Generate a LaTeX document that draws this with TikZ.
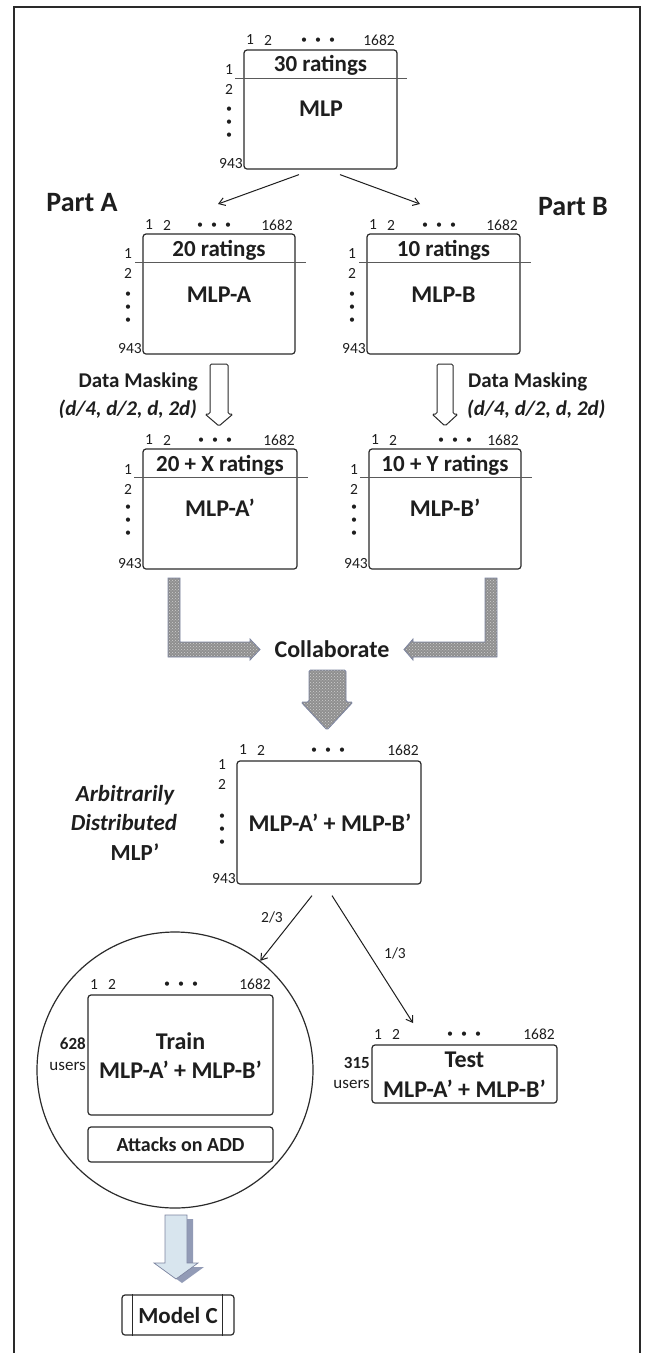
\documentclass[tikz,border=0pt]{standalone}
\usepackage{fontspec}
\setmainfont{Carlito}
\usetikzlibrary{arrows.meta,patterns,calc}

\definecolor{ink}{HTML}{1E1E1E}
\definecolor{edge}{HTML}{2A2A2A}
\definecolor{rulec}{HTML}{5A5A5A}
\definecolor{stipbg}{HTML}{8F8F8F}
\definecolor{stipdot}{HTML}{CFCFCF}
\definecolor{stipedge}{HTML}{7C84A0}
\definecolor{iceface}{HTML}{D8E5EE}
\definecolor{iceside}{HTML}{929BB6}

\newcommand\fs[1]{\fontsize{#1}{#1}\selectfont}

% column numbers above a matrix: prefix, left, right, y, centre of the dots
\newcommand\colnums[5]{%
  \node[num] (#1c1) at (#2+6,#4) {1};
  \node[num] (#1c2) at (#2+24,#4) {2};
  \node[dot] (#1h1) at (#5-14,#4+1) {•};
  \node[dot] (#1h2) at (#5,#4+1) {•};
  \node[dot] (#1h3) at (#5+14,#4+1) {•};
  \node[num] (#1c9) at (#3-18,#4) {1682};
}
% row numbers left of a matrix: prefix, left, bottom, y of "1", y of first dot
\newcommand\rownums[5]{%
  \node[num] (#1r1) at (#2-15,#4) {1};
  \node[num] (#1r2) at (#2-15,#4+19.5) {2};
  \node[dot] (#1v1) at (#2-15,#5) {•};
  \node[dot] (#1v2) at (#2-15,#5+13) {•};
  \node[dot] (#1v3) at (#2-15,#5+26) {•};
  \node[num,anchor=east] (#1r9) at (#2-1,#3-5) {943};
}

\begin{document}
\begin{tikzpicture}[x=1pt,y=-1pt,
  frame/.style={draw=edge,line width=1.3pt},
  mbox/.style={draw=edge,line width=1.2pt,rounded corners=3pt,fill=white,inner sep=0pt},
  rulel/.style={draw=rulec,line width=0.9pt},
  num/.style={font=\fs{15.5},text=ink,inner sep=0pt},
  dot/.style={font=\fs{12},text=ink,inner sep=0pt},
  hdr/.style={font=\bfseries\fs{23},text=ink,inner sep=0pt},
  ttl/.style={font=\bfseries\fs{24},text=ink,inner sep=0pt},
  part/.style={font=\bfseries\fs{28},text=ink,inner sep=0pt},
  mask/.style={font=\bfseries\fs{21},text=ink,inner sep=0pt},
  maskit/.style={font=\bfseries\itshape\fs{21},text=ink,inner sep=0pt},
  side/.style={font=\fs{17},text=ink,inner sep=0pt},
  arr/.style={draw=ink,line width=1pt,-{Straight Barb[length=6pt,width=8pt]}},
  hollow/.style={draw=edge,line width=1pt,fill=white,rounded corners=1.5pt},
  stipple/.style={preaction={fill=stipbg},pattern=crosshatch dots,pattern color=stipdot,draw=stipedge,line width=0.8pt},
]
\useasboundingbox (0,0) rectangle (645,1353);
\draw[frame] (14,1353) -- (14,7) -- (640,7) -- (640,1353);

% ---- full matrix ----
\node[mbox,minimum width=153pt,minimum height=119pt] (mlp) at (320.5,109.5) {};
\draw[rulel] (235,78) -- (407,78);
\node[hdr] (mlph) at (320.5,65) {30 ratings};
\node[ttl] (mlpt) at (321,109) {MLP};
\colnums{mlp}{244}{397}{40}{318}
\rownums{mlp}{244}{169}{70}{110}

\coordinate (aIn) at (218,204);
\coordinate (bIn) at (420,204);
\draw[arr] ($(mlp.south)+(-21.5,5)$) -- (aIn);
\draw[arr] ($(mlp.south)+(19.5,5)$) -- (bIn);

\node[part] (pa) at (82,203) {Part A};
\node[part] (pb) at (573,207) {Part B};

% ---- part A ----
\node[mbox,minimum width=152pt,minimum height=120pt] (ma) at (219,294) {};
\draw[rulel] (135,262) -- (306,262);
\node[hdr] (mah) at (219,250) {20 ratings};
\node[ttl] (mat) at (219,295) {MLP-A};
\colnums{ma}{143}{295}{225}{214}
\rownums{ma}{143}{354}{254}{295}

% ---- part B ----
\node[mbox,minimum width=153pt,minimum height=120pt] (mb) at (443.5,294) {};
\draw[rulel] (359,262) -- (531,262);
\node[hdr] (mbh) at (443.5,250) {10 ratings};
\node[ttl] (mbt) at (443.5,295) {MLP-B};
\colnums{mb}{367}{520}{225}{439}
\rownums{mb}{367}{354}{254}{295}

% ---- masking arrows ----
\draw[hollow] (210,364) -- (228,364) -- (228,414) -- (233,414) -- (219,426) -- (205,414) -- (210,414) -- cycle;
\draw[hollow] (437,364) -- (453,364) -- (453,414) -- (458,414) -- (445,426) -- (432,414) -- (437,414) -- cycle;
\node[mask,anchor=east] (dmA) at (198,382) {Data Masking};
\node[maskit,anchor=east] (dpA) at (197,409) {(d/4, d/2, d, 2d)};
\node[mask,anchor=west] (dmB) at (468,382) {Data Masking};
\node[maskit,anchor=west] (dpB) at (467,409) {(d/4, d/2, d, 2d)};

% ---- masked parts ----
\node[mbox,minimum width=154pt,minimum height=120pt] (ma2) at (220,509) {};
\draw[rulel] (134,477) -- (308,477);
\node[hdr] (ma2h) at (220,465) {20 + X ratings};
\node[ttl] (ma2t) at (220,508) {MLP-A’};
\colnums{maa}{143}{297}{440}{215}
\rownums{maa}{143}{569}{470}{508}

\node[mbox,minimum width=152pt,minimum height=120pt] (mb2) at (445,509) {};
\draw[rulel] (360,477) -- (532,477);
\node[hdr] (mb2h) at (445,465) {10 + Y ratings};
\node[ttl] (mb2t) at (445,508) {MLP-B’};
\colnums{mbb}{369}{521}{440}{455}
\rownums{mbb}{369}{569}{470}{508}

% ---- collaboration ----
\draw[stipple] (168,578) -- (180,578) -- (180,642) -- (250,642) -- (250,639) -- (260,649.5)
  -- (250,660) -- (250,657) -- (168,657) -- cycle;
\draw[stipple] (485,578) -- (497,578) -- (497,657) -- (413,657) -- (413,660) -- (404,649.5)
  -- (413,639) -- (413,642) -- (485,642) -- cycle;
\node[ttl] (collab) at (332,649) {Collaborate};
\draw[stipple,rounded corners=1.5pt] (309,670) -- (346,670) -- (346,702) -- (353,702) -- (327,730)
  -- (301,702) -- (309,702) -- cycle;

% ---- merged matrix ----
\node[mbox,minimum width=184pt,minimum height=123pt] (mrg) at (329,822.5) {};
\node[ttl] (mrgt) at (330,823) {MLP-A’ + MLP-B’};
\colnums{mrg}{237}{421}{750}{328}
\rownums{mrg}{237}{884}{765}{817}
\node[maskit,font=\bfseries\itshape\fs{23}] (arb1) at (125,795) {Arbitrarily};
\node[maskit,font=\bfseries\itshape\fs{23}] (arb2) at (124,823) {Distributed};
\node[ttl,font=\bfseries\fs{23}] (arb3) at (135,852) {MLP’};

% ---- train split ----
\node[draw=edge,line width=1.2pt,circle,minimum size=276pt,inner sep=0pt] (ring) at (175,1070) {};
\node[mbox,minimum width=185pt,minimum height=120pt] (trn) at (180.5,1055) {};
\node[ttl] (trnt) at (180.5,1041) {Train};
\node[ttl] (trnm) at (180.5,1070) {MLP-A’ + MLP-B’};
\colnums{trn}{88}{273}{984}{181}
\node[side,font=\bfseries\fs{17},anchor=east] (trnn) at (86,1044) {628};
\node[side,anchor=east] (trnu) at (86,1066) {users};
\node[mbox,font=\bfseries\fs{20},text=ink,minimum width=185pt,minimum height=35pt] (atk) at (180.5,1144.5) {Attacks on ADD};

% ---- test split ----
\node[mbox,minimum width=185pt,minimum height=58pt] (tst) at (464.5,1074) {};
\node[ttl] (tstt) at (464.5,1060) {Test};
\node[ttl] (tstm) at (464.5,1089) {MLP-A’ + MLP-B’};
\colnums{tst}{372}{557}{1034}{464}
\node[side,font=\bfseries\fs{17},anchor=east] (tstn) at (370,1063) {315};
\node[side,anchor=east] (tstu) at (370,1084) {users};

\coordinate (tIn) at (413,1023);
\draw[arr] ($(mrg.south)+(-17,11)$) -- (ring.52);
\draw[arr] ($(mrg.south)+(3,11)$) -- (tIn);
\node[num] (twoThirds) at (272,917) {2/3};
\node[num] (oneThird) at (395,953) {1/3};

% ---- model output ----
\fill[iceside] (171,1219) -- (193,1219) -- (193,1267) -- (204,1267) -- (182,1283) -- (160,1267) -- (171,1267) -- cycle;
\draw[draw=stipedge,line width=0.7pt,fill=iceface] (165,1215) -- (187,1215) -- (187,1263) -- (198,1263)
  -- (176,1279) -- (154,1263) -- (165,1263) -- cycle;
\node[mbox,font=\bfseries\fs{23},text=ink,minimum width=112pt,minimum height=40pt] (mc) at (178,1315) {Model C};
\draw[draw=edge,line width=1pt] ($(mc.north west)+(11,0)$) -- ($(mc.south west)+(11,0)$);
\draw[draw=edge,line width=1pt] ($(mc.north east)+(-12,0)$) -- ($(mc.south east)+(-12,0)$);
\end{tikzpicture}
\end{document}
